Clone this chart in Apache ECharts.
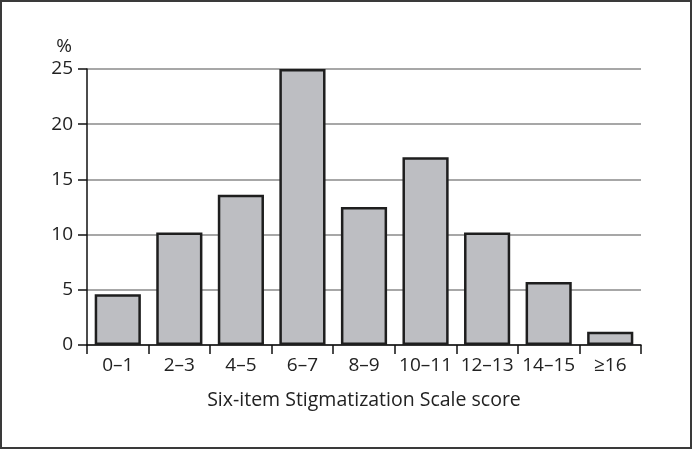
<!DOCTYPE html>
<html><head><meta charset="utf-8">
<script src="https://cdn.jsdelivr.net/npm/echarts@6/dist/echarts.min.js"></script>
<style>
html,body{margin:0;padding:0;background:#fff;}
#c{width:692px;height:449px;box-sizing:border-box;border:2px solid #3a3a3a;}
</style></head>
<body><div id="c"></div>
<script>
const categories = ['0–1','2–3','4–5','6–7','8–9','10–11','12–13','14–15','≥16'];
const values = [4.6, 10.2, 13.6, 25.0, 12.5, 17.0, 10.2, 5.7, 1.2];
const yTicks = [0, 5, 10, 15, 20, 25];
const xTitle = 'Six-item Stigmatization Scale score';
const yTitle = '%';

const chart = echarts.init(document.getElementById('c'), null, {renderer:'canvas'});
const font = 'Open Sans';
chart.setOption({
  animation:false,
  grid:{left:85, right:49, top:67, bottom:102, containLabel:false},
  xAxis:{
    type:'category', data:categories,
    name:xTitle, nameLocation:'middle', nameGap:45,
    nameTextStyle:{fontFamily:font, fontSize:19.5, color:'#222'},
    axisLine:{lineStyle:{color:'#111', width:1.5}},
    axisTick:{show:true, length:9, alignWithLabel:false, lineStyle:{color:'#111', width:1.5}},
    axisLabel:{fontFamily:font, fontSize:19, color:'#222', margin:11, interval:0}
  },
  yAxis:{
    type:'value', min:yTicks[0], max:yTicks[yTicks.length-1], interval:5,
    name:yTitle, nameLocation:'end', nameGap:13,
    nameTextStyle:{fontFamily:font, fontSize:19, color:'#222', align:'right', padding:[0,15,0,0]},
    axisLine:{show:true, lineStyle:{color:'#111', width:1.5}},
    axisTick:{show:true, length:9, lineStyle:{color:'#111', width:1.5}},
    axisLabel:{fontFamily:font, fontSize:19, color:'#222', margin:14},
    splitLine:{show:true, lineStyle:{color:'#8a8a8a', width:1.5}}
  },
  series:[{
    type:'bar', data:values, barCategoryGap:'25%',
    itemStyle:{color:'#bdbec2', borderColor:'#1e1e1e', borderWidth:2.5}
  }]
});
</script></body></html>
